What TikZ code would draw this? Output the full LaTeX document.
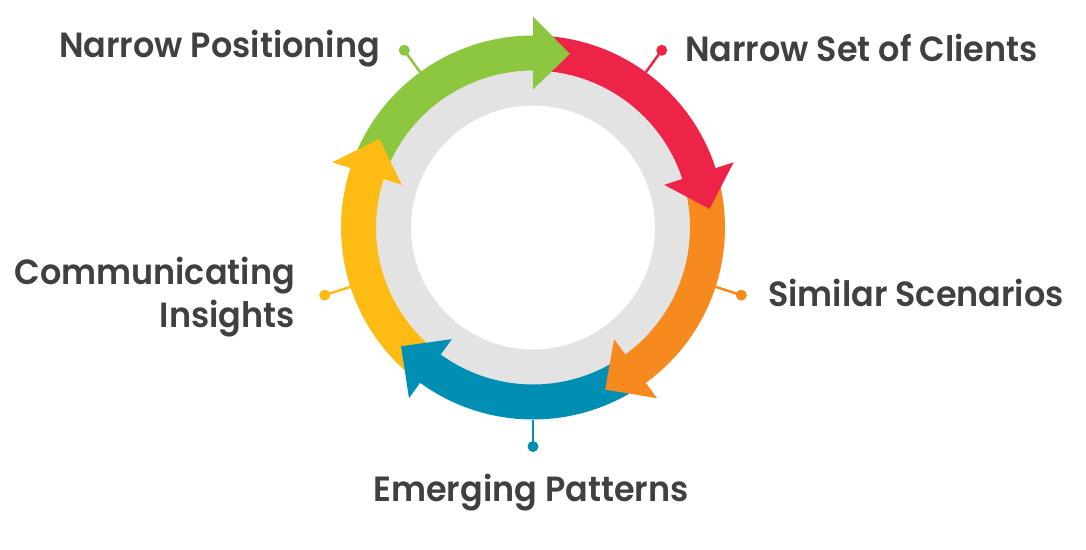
\documentclass[tikz,border=0pt]{standalone}
\usepackage{fontspec}
\setmainfont{Poppins}
\newfontfamily\labfont{Poppins SemiBold}[FakeStretch=0.955]
\definecolor{cgreen}{HTML}{8DC63F}
\definecolor{cred}{HTML}{EE2348}
\definecolor{corange}{HTML}{F68A1F}
\definecolor{cteal}{HTML}{008FB3}
\definecolor{cyellow}{HTML}{FDBB13}
\definecolor{cgray}{HTML}{E3E3E3}
\definecolor{ctext}{HTML}{404040}
\tikzset{
  lab/.style={font=\labfont\fontsize{35}{43}\selectfont, text=ctext, inner sep=0pt},
  spike/.style={line width=2.5pt},
}
\newcommand{\band}[3]{% start, end, colour
  \fill[#3] (#1:192) arc[start angle=#1, end angle=#2, radius=192] -- (#2:157) arc[start angle=#2, end angle=#1, radius=157] -- cycle;}
\newcommand{\head}[2]{% back angle, colour
  \fill[#2] (#1:138) -- (#1:211) -- ({#1-12}:177.5) -- cycle;}
\newcommand{\spikeat}[3]{% name, angle, colour
  \draw[spike,#3] (#2:192) -- (#2:219) coordinate (#1);
  \fill[#3] (#1) circle (5.5);}
\begin{document}
\begin{tikzpicture}[x=1pt,y=1pt]
\useasboundingbox (0,0) rectangle (1086,549);
\begin{scope}[shift={(533,321.5)}]
  \fill[cgray, even odd rule] (0,0) circle (158) (0,0) circle (122);
  \band{156}{89}{cgreen}
  \band{84}{17}{cred}
  \band{12}{-55}{corange}
  \band{-60}{-127}{cteal}
  \band{228}{161}{cyellow}
  \head{90}{cgreen}
  \head{18}{cred}
  \head{-54}{corange}
  \head{-126}{cteal}
  \head{162}{cyellow}
  \spikeat{pg}{126}{cgreen}
  \spikeat{pr}{54}{cred}
  \spikeat{po}{-18}{corange}
  \spikeat{pt}{-90}{cteal}
  \spikeat{py}{-162}{cyellow}
\end{scope}
\node[lab, anchor=base east] (t1) at (380,491.7) {Narrow Positioning};
\node[lab, anchor=base west] (t2) at (685,487.3) {Narrow Set of Clients};
\node[lab, anchor=base west] (t3) at (768,242) {Similar Scenarios};
\node[lab, anchor=base] (t4) at (531,47.3) {Emerging Patterns};
\node[lab, anchor=base east, align=right] (t5) at (295,221) {Communicating\\Insights};
\end{tikzpicture}
\end{document}
